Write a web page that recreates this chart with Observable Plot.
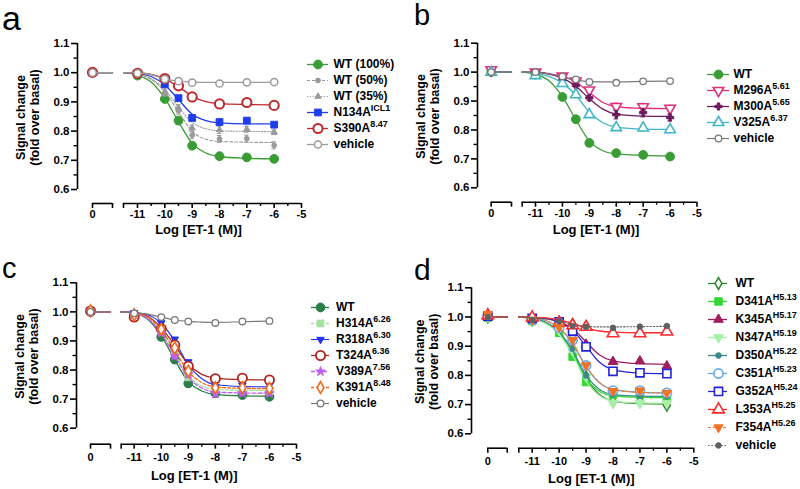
<!DOCTYPE html>
<html><head><meta charset="utf-8">
<script src="https://cdn.jsdelivr.net/npm/d3@7"></script>
<script src="https://cdn.jsdelivr.net/npm/@observablehq/plot@0.6"></script>
<style>
html,body{margin:0;padding:0;background:#fff}
body{width:800px;height:489px;position:relative;overflow:hidden;font-family:"Liberation Sans",Arial,sans-serif}
.plabel{position:absolute;line-height:22px;height:22px;font-weight:normal;color:#000;white-space:nowrap}
</style></head>
<body>
<script>
// ---------- shared values ----------
const doseX = [-11, -10, -9.5, -9, -8, -7, -6];
const fitX = [-11.5, -11, -10.5, -10, -9.5, -9, -8.5, -8, -7, -6];
const xTickValues = [-11, -10, -9, -8, -7, -6, -5];
const xMinorValues = [-10.5, -9.5, -8.5, -7.5, -6.5, -5.5];
const yTickValues = [0.6, 0.7, 0.8, 0.9, 1.0, 1.1];
const yMinorValues = [0.65, 0.75, 0.85, 0.95, 1.05];
const zeroTickLabel = "0";
const xTitle = "Log [ET-1 (M)]";
const yTitle = "Signal change\n(fold over basal)";
const panelLetters = ["a", "b", "c", "d"];

// ---------- panel a ----------
const aNames = ["WT (100%)", "WT (50%)", "WT (35%)", "N134A", "S390A", "vehicle"];
const aSups = ["", "", "", "ICL1", "8.47", ""];
const aBasal = [1.002, 1.0, 1.0, 1.0, 1.001, 1.0];
const aValues = [
  [0.99, 0.91, 0.836, 0.75, 0.714, 0.71, 0.705],
  [0.99, 0.928, 0.87, 0.786, 0.773, 0.774, 0.751],
  [0.99, 0.935, 0.879, 0.81, 0.804, 0.806, 0.796],
  [0.997, 0.96, 0.913, 0.845, 0.831, 0.836, 0.822],
  [0.998, 0.98, 0.955, 0.917, 0.893, 0.898, 0.888],
  [0.998, 0.978, 0.971, 0.966, 0.963, 0.967, 0.968]
];
const aFits = [
  [1.0, 0.992, 0.968, 0.912, 0.832, 0.758, 0.725, 0.713, 0.707, 0.705],
  [1.0, 0.995, 0.977, 0.935, 0.866, 0.8, 0.772, 0.765, 0.762, 0.761],
  [1.0, 0.996, 0.98, 0.942, 0.882, 0.83, 0.808, 0.801, 0.799, 0.798],
  [1.0, 0.998, 0.987, 0.958, 0.908, 0.858, 0.836, 0.828, 0.825, 0.825],
  [1.0, 0.999, 0.994, 0.978, 0.952, 0.92, 0.901, 0.894, 0.891, 0.89],
  [1.0, 0.999, 0.993, 0.978, 0.971, 0.968, 0.967, 0.967, 0.967, 0.968]
];
const aErrors = [
  [0.005, 0.012, 0.013, 0.012, 0.006, 0.005, 0.005],
  [0.005, 0.008, 0.012, 0.012, 0.012, 0.012, 0.012],
  [0.005, 0.008, 0.012, 0.01, 0.012, 0.01, 0.008],
  [0.003, 0.005, 0.005, 0.008, 0.005, 0.005, 0.005],
  [0.003, 0.004, 0.005, 0.006, 0.006, 0.006, 0.008],
  [0.003, 0.003, 0.003, 0.003, 0.003, 0.003, 0.003]
];

// ---------- panel b ----------
const bNames = ["WT", "M296A", "M300A", "V325A", "vehicle"];
const bSups = ["", "5.61", "5.65", "6.37", ""];
const bBasal = [1.0, 1.008, 1.0, 1.0, 1.0];
const bValues = [
  [0.992, 0.914, 0.837, 0.755, 0.72, 0.714, 0.708],
  [1.0, 0.986, 0.969, 0.938, 0.881, 0.88, 0.875],
  [1.0, 0.975, 0.954, 0.911, 0.853, 0.86, 0.843],
  [0.988, 0.961, 0.922, 0.853, 0.808, 0.807, 0.801],
  [1.0, 0.985, 0.975, 0.966, 0.963, 0.968, 0.969]
];
const bFits = [
  [1.0, 0.993, 0.97, 0.915, 0.835, 0.762, 0.728, 0.717, 0.712, 0.71],
  [1.0, 1.0, 0.995, 0.985, 0.966, 0.93, 0.895, 0.881, 0.875, 0.874],
  [1.0, 0.999, 0.993, 0.979, 0.951, 0.908, 0.872, 0.855, 0.848, 0.847],
  [1.0, 0.996, 0.985, 0.962, 0.92, 0.862, 0.825, 0.81, 0.803, 0.802],
  [1.0, 0.999, 0.994, 0.983, 0.973, 0.967, 0.966, 0.966, 0.968, 0.969]
];
const bErrors = [
  [0.005, 0.01, 0.012, 0.012, 0.006, 0.005, 0.005],
  [0.004, 0.005, 0.006, 0.008, 0.012, 0.012, 0.01],
  [0.004, 0.005, 0.006, 0.008, 0.015, 0.015, 0.012],
  [0.004, 0.005, 0.008, 0.01, 0.01, 0.01, 0.01],
  [0.003, 0.003, 0.003, 0.003, 0.003, 0.003, 0.003]
];

// ---------- panel c ----------
const cNames = ["WT", "H314A", "R318A", "T324A", "V389A", "K391A", "vehicle"];
const cSups = ["", "6.26", "6.30", "6.36", "7.56", "8.48", ""];
const cBasal = [1.0, 1.0, 1.0, 1.003, 1.0, 1.004, 1.0];
const cValues = [
  [0.99, 0.914, 0.836, 0.754, 0.72, 0.714, 0.708],
  [0.99, 0.936, 0.861, 0.775, 0.733, 0.73, 0.727],
  [0.997, 0.962, 0.906, 0.828, 0.742, 0.748, 0.748],
  [0.982, 0.942, 0.886, 0.813, 0.77, 0.772, 0.766],
  [0.99, 0.928, 0.848, 0.785, 0.718, 0.72, 0.72],
  [0.99, 0.94, 0.876, 0.796, 0.739, 0.739, 0.737],
  [0.995, 0.982, 0.972, 0.967, 0.962, 0.967, 0.969]
];
const cFits = [
  [1.0, 0.995, 0.975, 0.918, 0.835, 0.76, 0.728, 0.716, 0.711, 0.71],
  [1.0, 0.996, 0.98, 0.93, 0.855, 0.78, 0.745, 0.734, 0.73, 0.73],
  [1.0, 0.998, 0.99, 0.96, 0.9, 0.818, 0.77, 0.75, 0.743, 0.742],
  [1.0, 0.997, 0.985, 0.945, 0.885, 0.82, 0.785, 0.772, 0.767, 0.766],
  [1.0, 0.995, 0.977, 0.925, 0.848, 0.775, 0.738, 0.725, 0.721, 0.72],
  [1.0, 0.996, 0.982, 0.938, 0.868, 0.795, 0.757, 0.742, 0.737, 0.736],
  [1.0, 0.997, 0.992, 0.982, 0.972, 0.967, 0.965, 0.964, 0.966, 0.968]
];
const cErrors = [
  [0.005, 0.012, 0.012, 0.012, 0.008, 0.006, 0.006],
  [0.004, 0.008, 0.01, 0.01, 0.008, 0.008, 0.008],
  [0.004, 0.006, 0.006, 0.006, 0.006, 0.006, 0.006],
  [0.004, 0.006, 0.008, 0.008, 0.008, 0.008, 0.008],
  [0.004, 0.008, 0.01, 0.01, 0.01, 0.008, 0.008],
  [0.004, 0.008, 0.008, 0.008, 0.008, 0.008, 0.008],
  [0.003, 0.003, 0.003, 0.003, 0.003, 0.003, 0.003]
];

// ---------- panel d ----------
const dNames = ["WT", "D341A", "K345A", "N347A", "D350A", "C351A", "G352A", "L353A", "F354A", "vehicle"];
const dSups = ["", "H5.13", "H5.17", "H5.19", "H5.22", "H5.23", "H5.24", "H5.25", "H5.26", ""];
const dBasal = [1.0, 0.998, 1.0, 1.0, 1.0, 1.003, 1.003, 1.006, 1.01, 1.0];
const dValues = [
  [0.99, 0.955, 0.887, 0.795, 0.711, 0.711, 0.698],
  [0.986, 0.946, 0.864, 0.777, 0.734, 0.734, 0.723],
  [0.995, 0.986, 0.978, 0.906, 0.847, 0.849, 0.832],
  [0.99, 0.955, 0.885, 0.795, 0.705, 0.705, 0.705],
  [0.99, 0.965, 0.892, 0.8, 0.735, 0.73, 0.728],
  [0.99, 0.963, 0.921, 0.834, 0.748, 0.748, 0.74],
  [0.995, 0.983, 0.952, 0.898, 0.814, 0.809, 0.806],
  [0.998, 0.98, 0.971, 0.966, 0.944, 0.944, 0.95],
  [0.99, 0.965, 0.921, 0.834, 0.746, 0.748, 0.74],
  [0.99, 0.985, 0.969, 0.966, 0.963, 0.967, 0.969]
];
const dFits = [
  [1.0, 0.995, 0.98, 0.945, 0.88, 0.79, 0.735, 0.712, 0.703, 0.702],
  [1.0, 0.995, 0.98, 0.945, 0.878, 0.79, 0.745, 0.73, 0.725, 0.724],
  [1.0, 0.999, 0.995, 0.983, 0.96, 0.915, 0.87, 0.85, 0.84, 0.838],
  [1.0, 0.995, 0.978, 0.94, 0.87, 0.78, 0.73, 0.712, 0.706, 0.705],
  [1.0, 0.996, 0.982, 0.95, 0.885, 0.8, 0.752, 0.735, 0.729, 0.728],
  [1.0, 0.997, 0.988, 0.962, 0.91, 0.83, 0.775, 0.752, 0.742, 0.74],
  [1.0, 0.999, 0.995, 0.982, 0.955, 0.9, 0.845, 0.82, 0.808, 0.806],
  [1.0, 0.999, 0.997, 0.99, 0.978, 0.963, 0.952, 0.948, 0.946, 0.946],
  [1.0, 0.997, 0.988, 0.962, 0.91, 0.83, 0.775, 0.752, 0.742, 0.74],
  [1.0, 0.998, 0.993, 0.985, 0.975, 0.968, 0.966, 0.966, 0.967, 0.968]
];
const dErrors = [
  [0.004, 0.006, 0.008, 0.008, 0.01, 0.01, 0.006],
  [0.004, 0.006, 0.008, 0.008, 0.008, 0.008, 0.006],
  [0.004, 0.006, 0.006, 0.006, 0.006, 0.006, 0.006],
  [0.004, 0.006, 0.008, 0.008, 0.01, 0.01, 0.006],
  [0.004, 0.006, 0.008, 0.008, 0.008, 0.008, 0.006],
  [0.004, 0.006, 0.006, 0.006, 0.006, 0.006, 0.006],
  [0.004, 0.006, 0.006, 0.006, 0.006, 0.006, 0.006],
  [0.004, 0.004, 0.004, 0.004, 0.006, 0.006, 0.006],
  [0.004, 0.006, 0.006, 0.006, 0.006, 0.006, 0.006],
  [0.003, 0.003, 0.003, 0.003, 0.003, 0.003, 0.003]
];

// ---------- styles (separate from data) ----------
const triangleDown = {
  draw(context, size) {
    const y = -Math.sqrt(size / (Math.sqrt(3) * 3));
    context.moveTo(0, -y * 2);
    context.lineTo(-Math.sqrt(3) * y, y);
    context.lineTo(Math.sqrt(3) * y, y);
    context.closePath();
  }
};
function S(color, symbol, r, fill, msw, lw, dash) { return {color, symbol, r, fill, msw, lw, dash}; }
const aStyles = [
  S("#3a9c34", "circle", 4.4, "color", 1, 1.3, null),
  S("#9a9a9a", "circle", 2.4, "color", 1, 1.1, "3,2"),
  S("#9a9a9a", "triangle", 2.4, "color", 1, 1.1, "1.2,1.6"),
  S("#1f3cf0", "square", 3.8, "color", 1, 1.3, null),
  S("#c0282b", "circle", 4.6, "white", 2, 1.3, null),
  S("#9a9a9a", "circle", 3.6, "white", 1.5, 1.3, null)
];
const bStyles = [
  S("#3a9c34", "circle", 4.4, "color", 1, 1.3, null),
  S("#e0307c", triangleDown, 3.9, "white", 1.6, 1.3, null),
  S("#6a1b5c", "cross", 3.0, "color", 1, 1.3, null),
  S("#3fb6c8", "triangle", 3.9, "white", 1.6, 1.3, null),
  S("#7a7a7a", "circle", 3.3, "white", 1.3, 1.2, null)
];
const cStyles = [
  S("#2b7d4a", "circle", 4.4, "color", 1, 1.3, null),
  S("#a6e0a0", "square", 3.8, "color", 1, 1.3, "3,2"),
  S("#2233f0", triangleDown, 2.8, "color", 1, 1.1, null),
  S("#b02222", "circle", 4.6, "white", 1.8, 1.3, null),
  S("#c060f0", "star", 3.0, "color", 1, 1.3, "4,2"),
  S("#f06a1a", "diamond", 3.6, "white", 1.6, 1.3, "3,2"),
  S("#7a7a7a", "circle", 3.3, "white", 1.3, 1.2, null)
];
const dStyles = [
  S("#2a8a2a", "diamond", 3.6, "white", 1.5, 1.3, null),
  S("#33d833", "square", 4.2, "color", 1, 1.3, null),
  S("#a01e5e", "triangle", 3.6, "color", 1, 1.3, null),
  S("#a8f0a8", triangleDown, 3.6, "color", 1, 1.3, null),
  S("#3a8a8a", "circle", 2.8, "color", 1, 1.3, null),
  S("#62a8f0", "circle", 4.6, "white", 1.6, 1.3, null),
  S("#2323d8", "square", 4.6, "white", 1.6, 1.3, null),
  S("#ff2a2a", "triangle", 4.3, "white", 1.6, 1.3, null),
  S("#f07222", triangleDown, 3.4, "color", 1, 1.1, "3,2"),
  S("#606060", "circle", 2.8, "color", 1, 1.1, "1.5,1.8")
];

// ---------- layout geometry (page pixels) ----------
const geoms = [
  {left: 0, top: 0, yAxisX: 77, y11: 43, y06: 189, xAxisY: 203, xm11: 137, xm5: 301, x0: 92, x0end: 112, xstart: 123, tickPad: 2, titleCx: 198, titleCy: 229, yTitleCx: 27},
  {left: 400, top: 0, yAxisX: 477, y11: 42.7, y06: 187.3, xAxisY: 201.7, xm11: 535, xm5: 696.5, x0: 490.7, x0end: 511, xstart: 521.7, tickPad: 2, titleCx: 595.5, titleCy: 229, yTitleCx: 427},
  {left: 0, top: 245, yAxisX: 76, y11: 282.3, y06: 427.7, xAxisY: 443.7, xm11: 133.7, xm5: 296, x0: 90, x0end: 110, xstart: 120.7, tickPad: 3.5, titleCx: 193.7, titleCy: 475, yTitleCx: 26},
  {left: 400, top: 245, yAxisX: 471, y11: 287.3, y06: 433.3, xAxisY: 447.7, xm11: 531.7, xm5: 693.3, x0: 487.3, x0end: 506.7, xstart: 518.3, tickPad: 3.5, titleCx: 590.8, titleCy: 478, yTitleCx: 426.5}
];
const legendGeoms = [
  {row0: 53, row1: 154, l1: 307, l2: 328, sym: 317.5, text: 333},
  {row0: 64.3, row1: 148.3, l1: 707, l2: 729, sym: 718, text: 733},
  {row0: 295.5, row1: 413.3, l1: 311, l2: 329, sym: 320, text: 335.5},
  {row0: 271, row1: 456.7, l1: 708, l2: 727, sym: 718, text: 735}
];
// panel letters: left edge, baseline, font size
const letterPos = [{x: 2, base: 30, fs: 34}, {x: 414, base: 25, fs: 29}, {x: 2, base: 278.5, fs: 29}, {x: 414, base: 280, fs: 30}];

const FONT = "'Liberation Sans', Arial, Helvetica, sans-serif";

function place(el, left, top) {
  el.style.position = "absolute";
  el.style.left = left + "px";
  el.style.top = top + "px";
  document.body.appendChild(el);
}

function drawPanel(names, basal, values, fits, errors, styles, g) {
  const pxDec = (g.xm5 - g.xm11) / 6;
  const toX = px => -11 + (px - g.xm11) / pxDec;
  const xmin = toX(g.yAxisX), X0 = toX(g.x0), X0e = toX(g.x0end), Xs = toX(g.xstart);
  const pxUnit = (g.y06 - g.y11) / 0.5;
  const ymin = 0.6 - (g.xAxisY - g.y06) / pxUnit;
  const capHalf = 2.2 / pxDec;
  const marks = [];
  // axes
  marks.push(Plot.ruleX([xmin], {y1: 0.6, y2: 1.1, stroke: "#000", strokeWidth: 1.6}));
  marks.push(Plot.axisY({ticks: yTickValues, tickSize: 6, tickPadding: 2, tickFormat: d3.format(".1f"), stroke: "#000", strokeWidth: 1.6, fontSize: 11.5, fontWeight: "bold", label: null}));
  marks.push(Plot.axisY({ticks: yMinorValues, tickSize: 3.5, tickFormat: () => "", stroke: "#000", strokeWidth: 1.4, label: null}));
  marks.push(Plot.ruleY([ymin], {x1: Xs, x2: -5, stroke: "#000", strokeWidth: 1.6}));
  marks.push(Plot.ruleY([ymin], {x1: X0, x2: X0e, stroke: "#000", strokeWidth: 1.6}));
  marks.push(Plot.axisX({ticks: xTickValues, tickSize: 5, tickPadding: g.tickPad, tickFormat: d => String(d), stroke: "#000", strokeWidth: 1.6, fontSize: 11, fontWeight: "bold", label: null}));
  marks.push(Plot.axisX({ticks: [X0], tickSize: 5, tickPadding: g.tickPad, tickFormat: () => zeroTickLabel, stroke: "#000", strokeWidth: 1.6, fontSize: 11, fontWeight: "bold", label: null}));
  marks.push(Plot.axisX({ticks: [Xs, X0e], tickSize: 5, tickFormat: () => "", stroke: "#000", strokeWidth: 1.6, label: null}));
  marks.push(Plot.axisX({ticks: xMinorValues, tickSize: 3, tickFormat: () => "", stroke: "#000", strokeWidth: 1.4, label: null}));
  // titles
  marks.push(Plot.text([yTitle], {frameAnchor: "left", dx: g.yTitleCx - g.yAxisX, dy: -(g.xAxisY - g.y06) / 2 + 1, rotate: -90, lineHeight: 1.12, fontSize: 12.5, fontWeight: "bold", textAnchor: "middle", lineAnchor: "middle"}));
  marks.push(Plot.text([xTitle], {frameAnchor: "bottom", dx: g.titleCx - (g.yAxisX + g.xm5) / 2, dy: g.titleCy - g.xAxisY, fontSize: 13, fontWeight: "bold", lineAnchor: "middle"}));
  // series
  names.forEach((n, i) => {
    const st = styles[i];
    const fitData = fitX.map((x, j) => ({x, y: fits[i][j]}));
    const seg = [{x: X0, y: fits[i][0]}, {x: X0e, y: fits[i][0]}];
    const pts = [{x: X0, y: basal[i], e: 0}].concat(doseX.map((x, j) => ({x, y: values[i][j], e: errors[i][j]})));
    const lineOpts = {x: "x", y: "y", stroke: st.color, strokeWidth: st.lw, strokeDasharray: st.dash, curve: "monotone-x"};
    marks.push(Plot.line(fitData, lineOpts));
    marks.push(Plot.line(seg, lineOpts));
    const eb = pts.filter(p => p.e > 0);
    marks.push(Plot.ruleX(eb, {x: "x", y1: p => p.y - p.e, y2: p => p.y + p.e, stroke: st.color, strokeWidth: 1}));
    marks.push(Plot.ruleY(eb, {y: p => p.y + p.e, x1: p => p.x - capHalf, x2: p => p.x + capHalf, stroke: st.color, strokeWidth: 1}));
    marks.push(Plot.ruleY(eb, {y: p => p.y - p.e, x1: p => p.x - capHalf, x2: p => p.x + capHalf, stroke: st.color, strokeWidth: 1}));
    marks.push(Plot.dot(pts, {x: "x", y: "y", symbol: st.symbol, r: st.r,
      fill: st.fill === "color" ? st.color : st.fill, stroke: st.color, strokeWidth: st.msw}));
  });
  const marginRight = 14, marginBottom = 45;
  const svg = Plot.plot({
    width: g.xm5 - g.left + marginRight,
    height: g.xAxisY - g.top + marginBottom,
    marginLeft: g.yAxisX - g.left,
    marginTop: g.y11 - g.top,
    marginRight, marginBottom,
    x: {domain: [xmin, -5]},
    y: {domain: [ymin, 1.1]},
    style: {fontFamily: FONT, fontWeight: "bold", color: "#000", background: "transparent", overflow: "visible"},
    marks
  });
  place(svg, g.left, g.top);
}

function drawLegend(names, sups, styles, L) {
  const left = L.l1 - 6, top = L.row0 - 16, w = 110, h = L.row1 - L.row0 + 32;
  const marks = [];
  names.forEach((n, i) => {
    const st = styles[i];
    marks.push(Plot.ruleY([n], {y: d => d, x1: L.l1 - left, x2: L.l2 - left, stroke: st.color, strokeWidth: st.lw, strokeDasharray: st.dash}));
    marks.push(Plot.dot([n], {y: d => d, x: L.sym - left, symbol: st.symbol, r: st.r,
      fill: st.fill === "color" ? st.color : st.fill, stroke: st.color, strokeWidth: st.msw}));
    marks.push(Plot.text([n], {y: d => d, x: L.text - left, text: d => d, textAnchor: "start", fontSize: 12, fontWeight: "bold", fill: "#000"}));
  });
  const svg = Plot.plot({
    width: w, height: h, margin: 0,
    x: {domain: [0, w], range: [0, w], axis: null},
    y: {type: "point", domain: names, range: [L.row0 - top, L.row1 - top], axis: null},
    style: {fontFamily: FONT, fontWeight: "bold", background: "transparent", overflow: "visible"},
    marks
  });
  svg.querySelectorAll("text").forEach(t => {
    const i = names.indexOf(t.textContent);
    if (i >= 0 && sups[i]) {
      const ts = document.createElementNS("http://www.w3.org/2000/svg", "tspan");
      ts.setAttribute("dy", "-5");
      ts.setAttribute("font-size", "9");
      ts.textContent = sups[i];
      t.appendChild(ts);
    }
  });
  place(svg, left, top);
}

const panels = [
  [aNames, aSups, aBasal, aValues, aFits, aErrors, aStyles],
  [bNames, bSups, bBasal, bValues, bFits, bErrors, bStyles],
  [cNames, cSups, cBasal, cValues, cFits, cErrors, cStyles],
  [dNames, dSups, dBasal, dValues, dFits, dErrors, dStyles]
];
panels.forEach(([names, sups, basal, values, fits, errors, styles], k) => {
  drawPanel(names, basal, values, fits, errors, styles, geoms[k]);
  drawLegend(names, sups, styles, legendGeoms[k]);
  const lp = letterPos[k];
  const lab = document.createElement("div");
  lab.className = "plabel";
  lab.style.fontSize = lp.fs + "px";
  lab.textContent = panelLetters[k];
  const baseOff = (22 - 1.117 * lp.fs) / 2 + 0.905 * lp.fs;
  place(lab, lp.x, lp.base - baseOff);
});
</script>
</body></html>
